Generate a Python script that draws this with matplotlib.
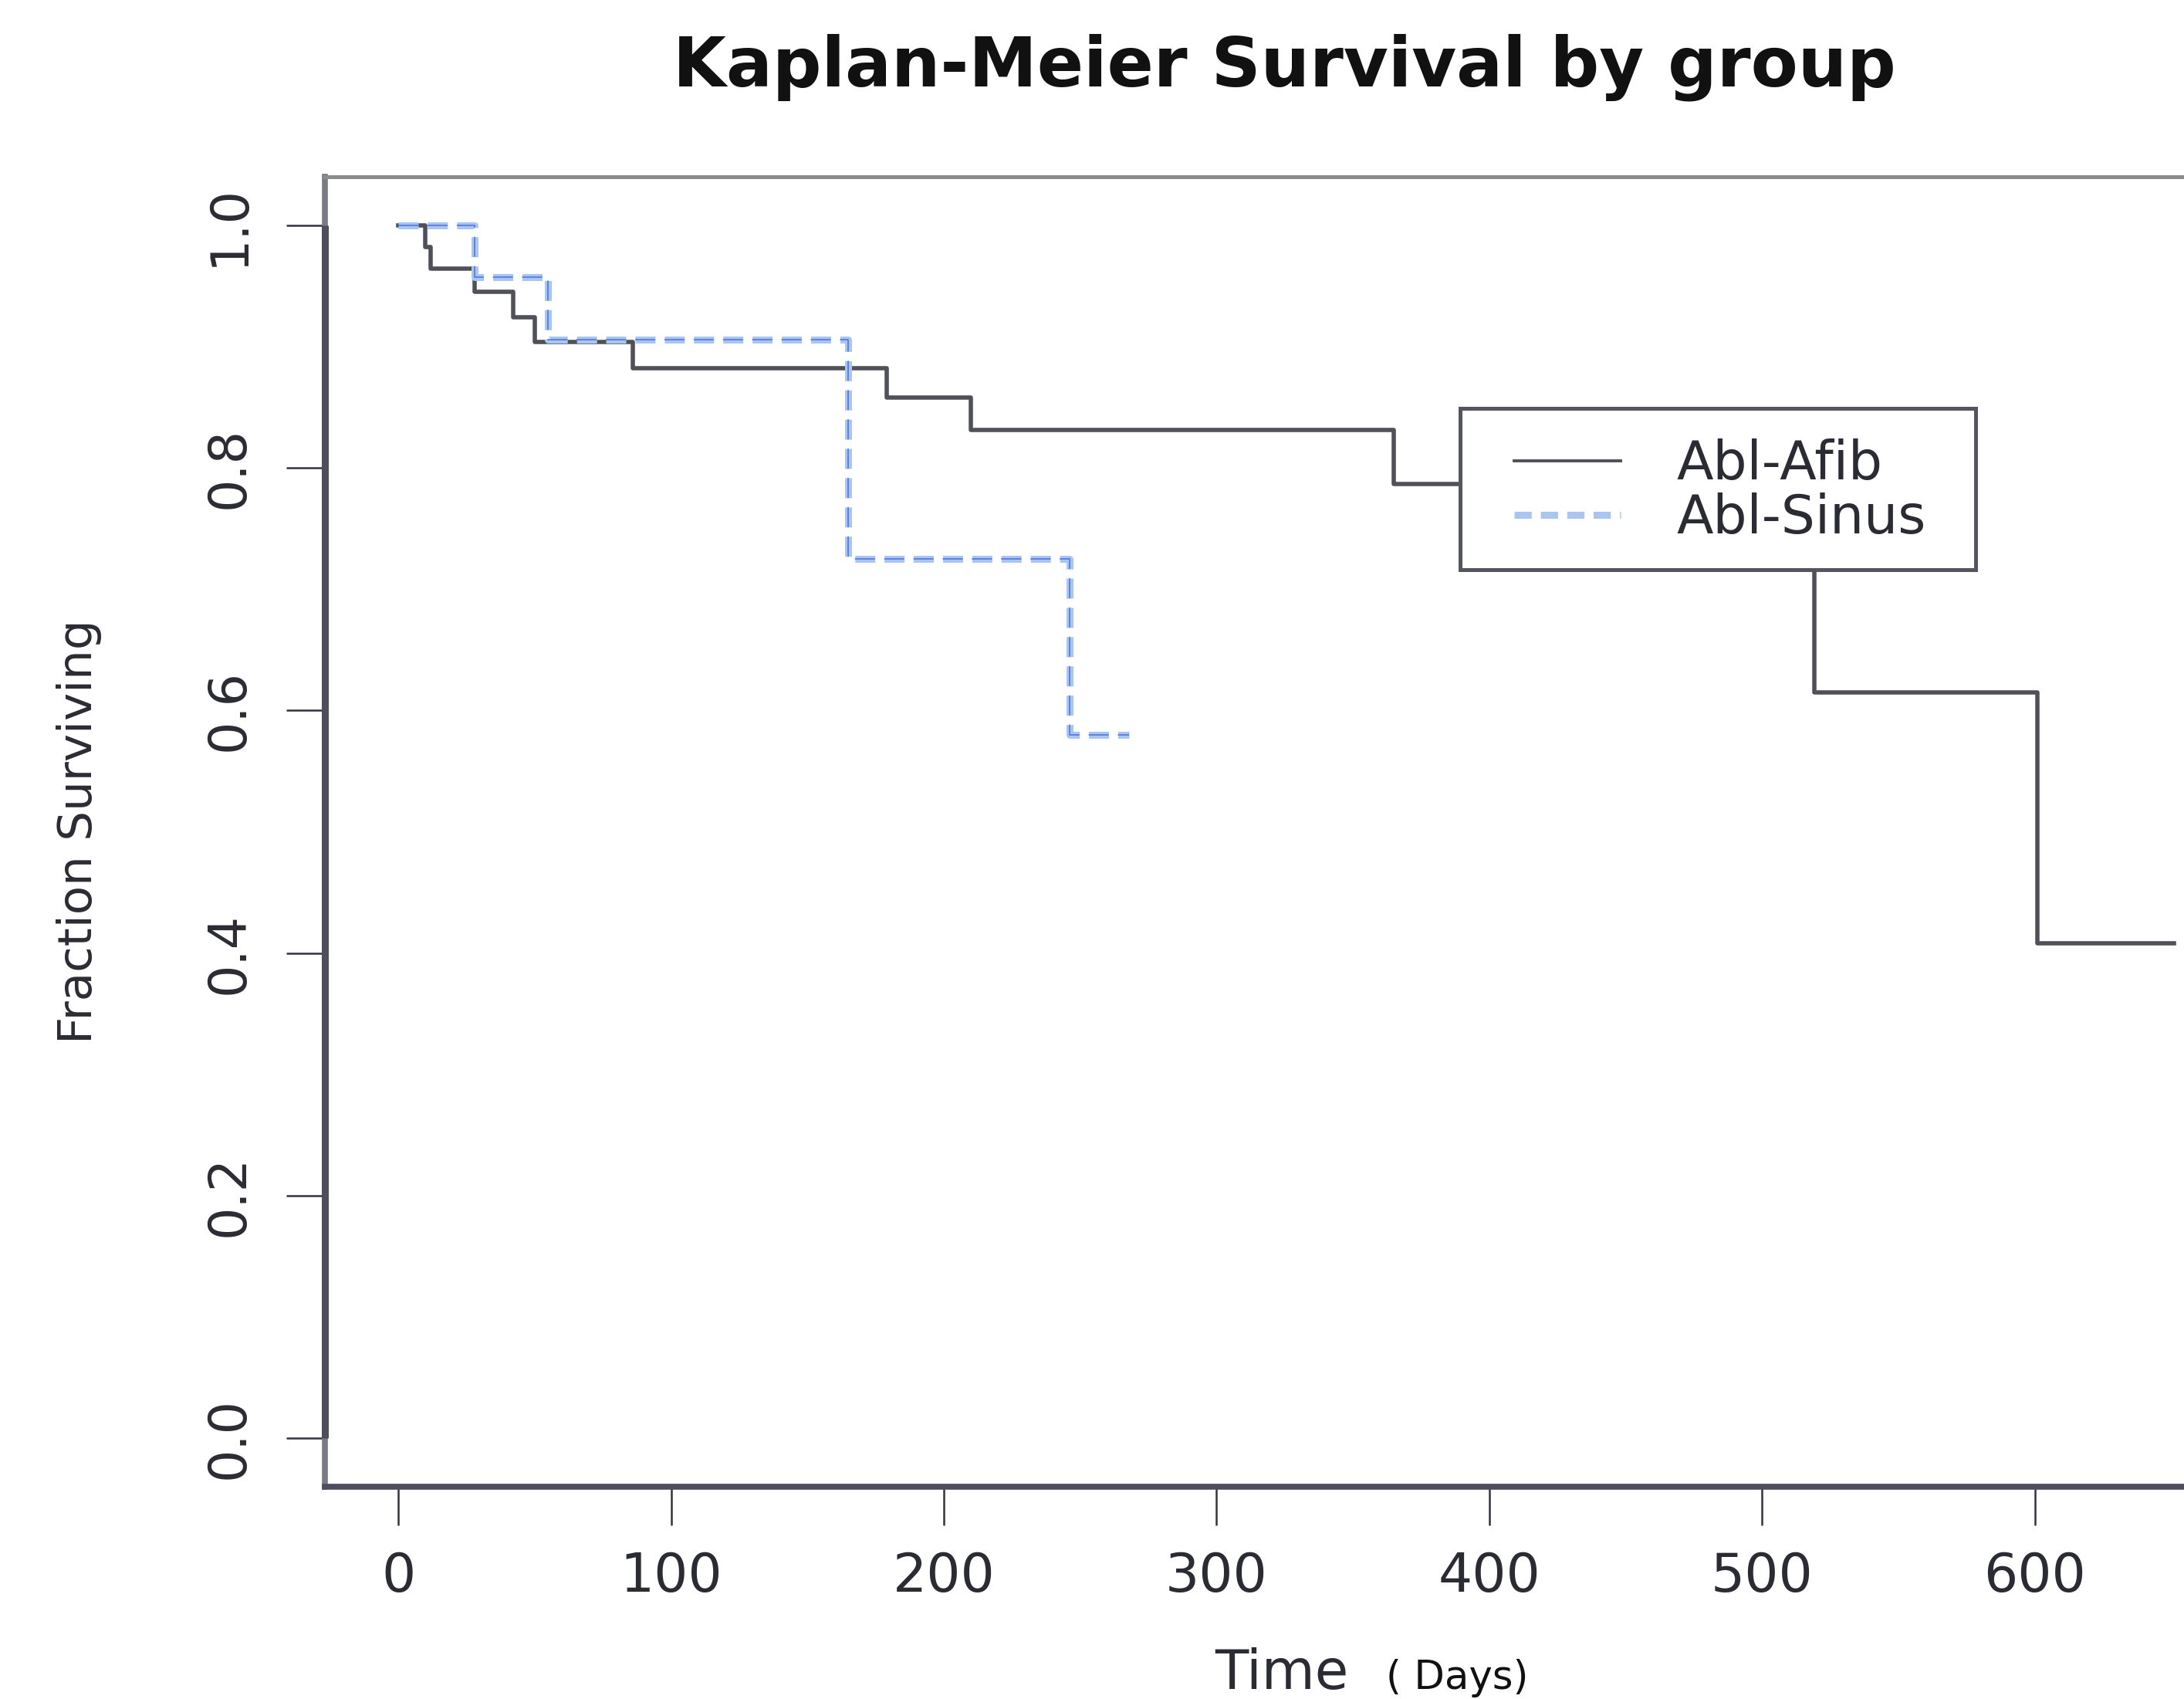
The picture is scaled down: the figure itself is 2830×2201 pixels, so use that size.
import matplotlib
matplotlib.use("Agg")
import matplotlib.pyplot as plt
from matplotlib.lines import Line2D
from matplotlib.patches import Rectangle

# Kaplan-Meier step data
afib_time = [0, 10, 12, 28, 42, 50, 86, 179, 210, 365, 470, 519, 601, 651]
afib_surv = [1.0, 0.982, 0.964, 0.945, 0.924, 0.904, 0.882, 0.858, 0.831, 0.787, 0.716, 0.615, 0.408, 0.408]

sinus_time = [0, 28, 55, 165, 246, 268]
sinus_surv = [1.0, 0.957, 0.906, 0.725, 0.580, 0.580]

x_ticks = [0, 100, 200, 300, 400, 500, 600]
y_ticks = [0.0, 0.2, 0.4, 0.6, 0.8, 1.0]
y_ticklabels = ["0.0", "0.2", "0.4", "0.6", "0.8", "1.0"]
group_names = ["Abl-Afib", "Abl-Sinus"]

plt.rcParams["lines.scale_dashes"] = False
plt.rcParams["font.family"] = ["DejaVu Sans"]

W, H = 2830, 2201
fig = plt.figure(figsize=(W / 100, H / 100), dpi=100)
ax = fig.add_axes([421 / W, 1 - 1926 / H, (2909 - 421) / W, (1926 - 229) / H])

afib_col = "#505058"
sinus_light = "#a8c6ef"
sinus_dark = "#4a6ee0"
dash = (18.7, 8.6)

ax.step(afib_time, afib_surv, where="post", color=afib_col, lw=4.0, zorder=3)
ax.step(sinus_time, sinus_surv, where="post", color=sinus_light, lw=6.5,
        dashes=dash, zorder=4)
ax.step(sinus_time, sinus_surv, where="post", color=sinus_dark, lw=1.1,
        dashes=dash, zorder=5)

ax.set_xlim(-26.9, 677)
ax.set_ylim(-0.04, 1.04)

# box and axis lines
for side in ["top", "right"]:
    ax.spines[side].set_color("#8c8c8c")
    ax.spines[side].set_linewidth(3.6)
ax.spines["right"].set_visible(False)
ax.spines["left"].set_color("#7a7a84")
ax.spines["left"].set_linewidth(5.5)
ax.spines["bottom"].set_color("#4d4d5e")
ax.spines["bottom"].set_linewidth(5.5)
ax.plot([0, 0], [y_ticks[0], y_ticks[-1]], transform=ax.get_yaxis_transform(),
        color="#4d4d5e", lw=6.5, clip_on=False, zorder=6, solid_capstyle="butt")

ax.set_xticks(x_ticks)
ax.set_xticklabels([str(v) for v in x_ticks])
ax.set_yticks(y_ticks)
ax.set_yticklabels(y_ticklabels)
ax.tick_params(axis="both", direction="out", length=36, width=1.8, color="#333340",
               labelcolor="#2b2b33")
ax.tick_params(axis="x", labelsize=50, pad=24)
ax.tick_params(axis="y", labelsize=48, pad=30)
for lab in ax.get_yticklabels():
    lab.set_rotation(90)
    lab.set_va("center")
    lab.set_ha("right")

fig.text(103 / W, 1 - 1077 / H, "Fraction Surviving", fontsize=44, rotation=90,
         ha="center", va="center", color="#2b2b33")

fig.text(1664 / W, 1 - 87 / H, "Kaplan-Meier Survival by group", fontsize=64,
         fontweight="bold", ha="center", va="center", color="#111111")

fig.text(1574 / W, 1 - 2188 / H, "Time", fontsize=51, ha="left", va="baseline",
         color="#2b2b33")
fig.text(1796 / W, 1 - 2188 / H, "( Days)", fontsize=37, ha="left", va="baseline",
         color="#111111")

# legend box, white and opaque so it hides the curve underneath
ax.add_patch(Rectangle((1892 / W, 1 - 738 / H), (2560 - 1892) / W, (738 - 529) / H,
                       transform=fig.transFigure, facecolor="white",
                       edgecolor="#55555f", lw=3.6, zorder=8, clip_on=False))
handles = [Line2D([], [], color=afib_col, lw=2.8),
           Line2D([], [], color=sinus_light, lw=6.5, dashes=(16, 8.6))]
leg = ax.legend(handles, group_names, loc="upper left",
                bbox_to_anchor=(1962 / W, 1 - 568 / H), bbox_transform=fig.transFigure,
                fontsize=50, frameon=False, borderpad=0, labelspacing=0.05,
                handlelength=1.99, handletextpad=1.04, borderaxespad=0)
leg.set_zorder(10)
for t in leg.get_texts():
    t.set_color("#2b2b33")

fig.savefig("out.png", dpi=100)
